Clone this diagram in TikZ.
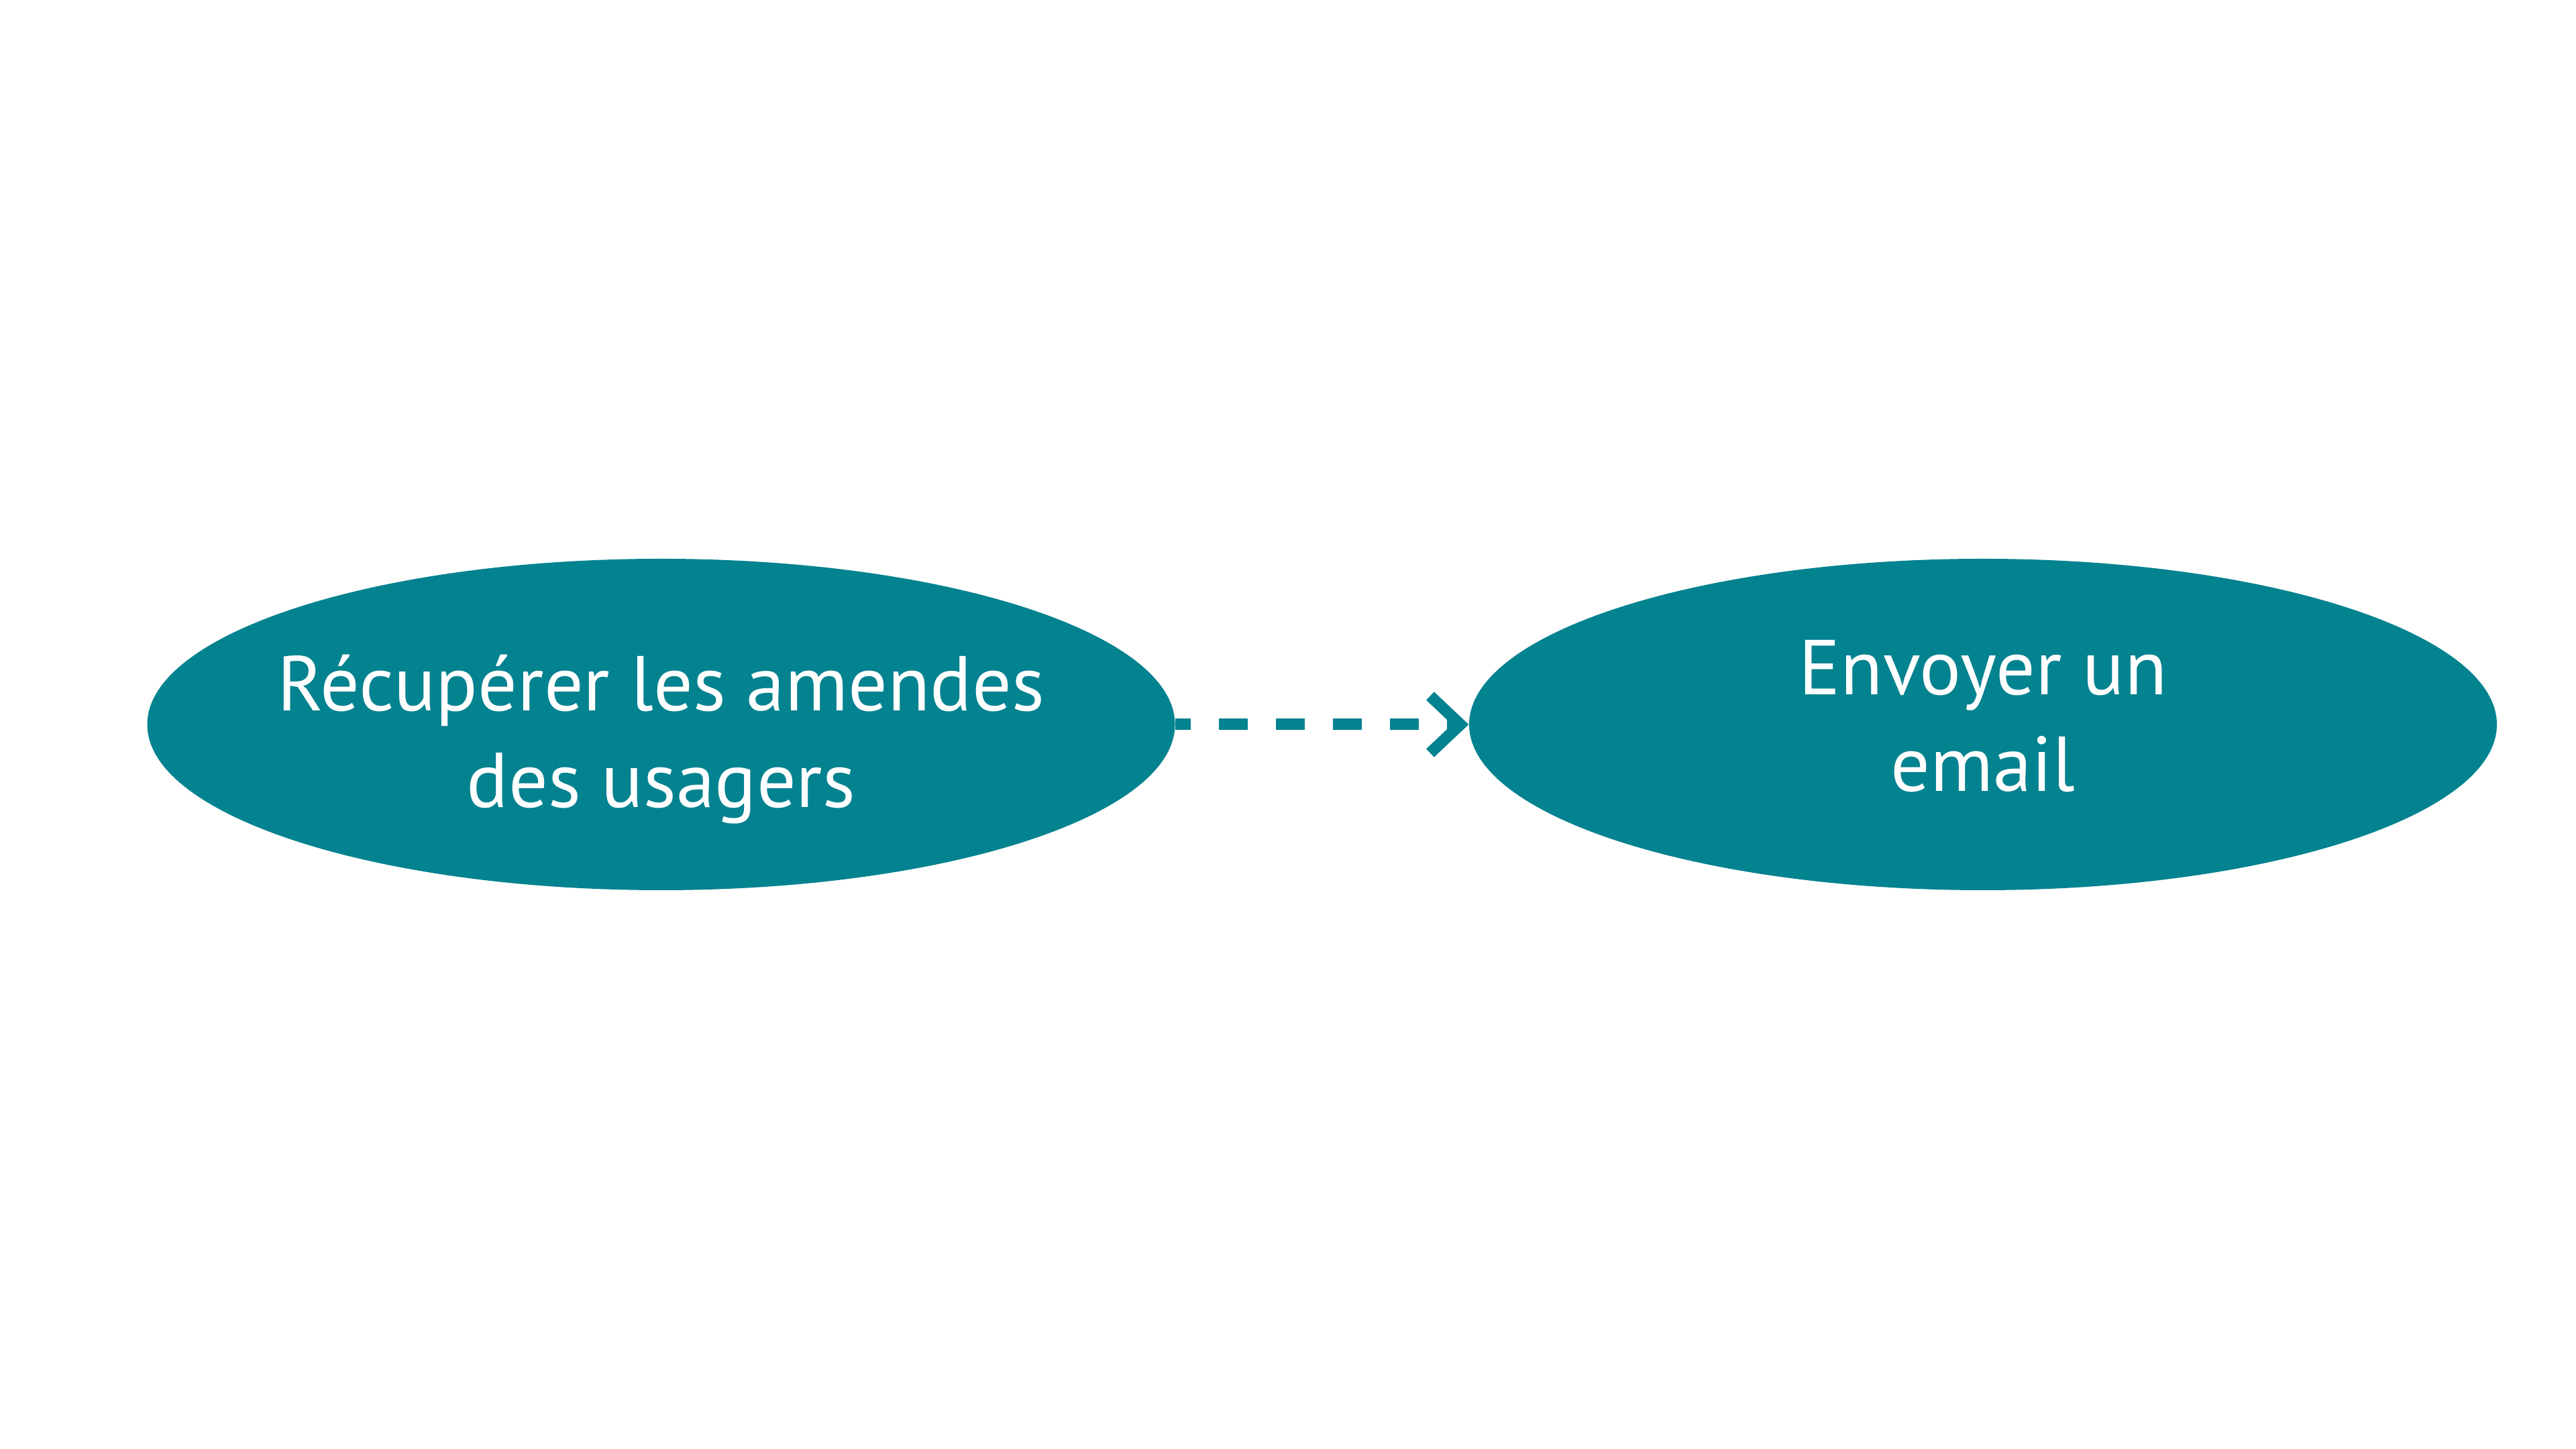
\documentclass[tikz,border=0pt]{standalone}
\usepackage{fontspec}
\setmainfont{PT Sans}
\usepackage{tikz}
\usetikzlibrary{shapes.geometric, arrows.meta}
\definecolor{bleucanard}{RGB}{3,130,143}

\begin{document}
\begin{tikzpicture}[main/.style = {ellipse, fill=bleucanard, minimum width=15.32cm, minimum height=4.94cm, inner sep=0pt}, texte/.style = {text=white, align=center, font=\fontsize{33}{41}\selectfont}]
	\useasboundingbox (0, 0) rectangle (38.4, 21.6);
	\node [main] (1) at (9.855, 10.8) {};
	\node [main] (2) at (29.56, 10.8) {};
	\node [texte, yshift=-0.22cm] (1t) at (1) {Récupérer les amendes\\des usagers};
	\node [texte, yshift=0.12cm] (2t) at (2) {Envoyer un\\email};

    \draw[bleucanard, line width=0.17cm, dash pattern=on 0.43cm off 0.42cm, dash phase=0.2cm, -{Straight Barb[length=0.45cm, width=0.85cm]}] (1) --  (2);

\end{tikzpicture}
\end{document}
